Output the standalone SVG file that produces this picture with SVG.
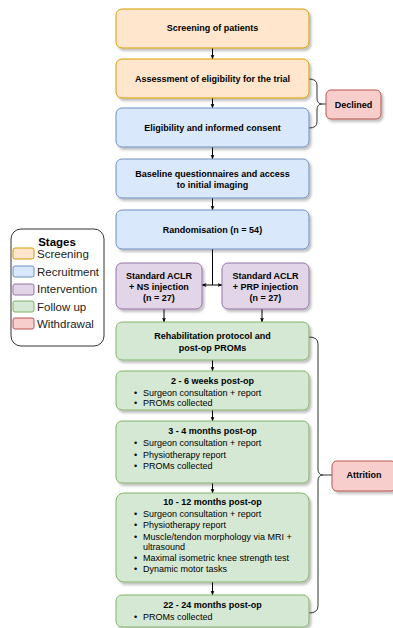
<svg xmlns="http://www.w3.org/2000/svg" width="393" height="628" viewBox="0 0 393 628">
<defs>
<filter id="sh" x="-10%" y="-10%" width="130%" height="140%"><feDropShadow dx="2" dy="2.5" stdDeviation="1.2" flood-color="#000" flood-opacity="0.25"/></filter>
<marker id="ah" viewBox="0 0 10 10" refX="9" refY="5" markerWidth="5" markerHeight="5" orient="auto-start-reverse"><path d="M0,1 L10,5 L0,9 L2.5,5 Z" fill="#000"/></marker>
</defs>
<style>
.b{stroke-width:1;filter:url(#sh)}
.or{fill:#ffe6cc;stroke:#d79b00}
.bl{fill:#dae8fc;stroke:#6c8ebf}
.pu{fill:#e1d5e7;stroke:#9673a6}
.gr{fill:#d5e8d4;stroke:#82b366}
.rd{fill:#f8cecc;stroke:#b85450}
text{font-family:"Liberation Sans",Arial,sans-serif;font-size:9px;fill:#000}
.t{font-weight:bold;text-anchor:middle}
.c{text-anchor:middle}
.ln{fill:none;stroke:#000;stroke-width:1}
.br{fill:none;stroke:#333;stroke-width:1}
.lg{font-size:11.5px;fill:#222}
</style>
<rect width="393" height="628" fill="#fff"/>
<g id="connectors">
<line class="ln" x1="212.5" y1="48" x2="212.5" y2="59" marker-end="url(#ah)"/>
<line class="ln" x1="212.5" y1="98" x2="212.5" y2="108" marker-end="url(#ah)"/>
<line class="ln" x1="212.5" y1="147" x2="212.5" y2="159" marker-end="url(#ah)"/>
<line class="ln" x1="212.5" y1="198" x2="212.5" y2="210" marker-end="url(#ah)"/>
<line class="ln" x1="212.5" y1="249" x2="212.5" y2="285"/>
<line class="ln" x1="212.5" y1="285" x2="202" y2="285" marker-end="url(#ah)"/>
<line class="ln" x1="212.5" y1="285" x2="222" y2="285" marker-end="url(#ah)"/>
<line class="ln" x1="164" y1="309" x2="164" y2="322" marker-end="url(#ah)"/>
<line class="ln" x1="262" y1="309" x2="262" y2="322" marker-end="url(#ah)"/>
<line class="ln" x1="212.5" y1="360" x2="212.5" y2="371" marker-end="url(#ah)"/>
<line class="ln" x1="212.5" y1="410" x2="212.5" y2="421" marker-end="url(#ah)"/>
<line class="ln" x1="212.5" y1="483" x2="212.5" y2="493" marker-end="url(#ah)"/>
<line class="ln" x1="212.5" y1="582" x2="212.5" y2="595" marker-end="url(#ah)"/>
<path class="br" d="M309,79 Q317,79 317,85 L317,98 Q317,104 322,104 Q317,104 317,110 L317,122 Q317,128 309,128"/>
<line class="br" x1="322" y1="104" x2="326" y2="104"/>
<path class="br" d="M309,337 Q318,337 318,344 L318,469 Q318,475 323,475 Q318,475 318,481 L318,606 Q318,613 309,613"/>
<line class="br" x1="323" y1="475" x2="332" y2="475"/>
</g>
<g id="screening"><rect class="b or" x="116" y="9" width="193" height="39" rx="6"/><text class="t" x="212.5" y="31">Screening of patients</text></g>
<g id="assessment"><rect class="b or" x="116" y="59" width="193" height="39" rx="6"/><text class="t" x="212.5" y="82">Assessment of eligibility for the trial</text></g>
<g id="consent"><rect class="b bl" x="116" y="108" width="193" height="39" rx="6"/><text class="t" x="212.5" y="131">Eligibility and informed consent</text></g>
<g id="baseline"><rect class="b bl" x="116" y="159" width="193" height="39" rx="6"/><text class="t" x="212.5" y="177">Baseline questionnaires and access</text><text class="t" x="212.5" y="188">to initial imaging</text></g>
<g id="randomisation"><rect class="b bl" x="116" y="210" width="193" height="39" rx="6"/><text class="t" x="212.5" y="233">Randomisation (n = 54)</text></g>
<g id="ns"><rect class="b pu" x="116" y="263" width="86" height="46" rx="6"/><text class="t" x="159" y="279">Standard ACLR</text><text class="t" x="159" y="290">+ NS injection</text><text class="t" x="159" y="301">(n = 27)</text></g>
<g id="prp"><rect class="b pu" x="222" y="263" width="87" height="46" rx="6"/><text class="t" x="265.5" y="279">Standard ACLR</text><text class="t" x="265.5" y="290">+ PRP injection</text><text class="t" x="265.5" y="301">(n = 27)</text></g>
<g id="rehab"><rect class="b gr" x="116" y="322" width="193" height="38" rx="6"/><text class="t" x="212.5" y="339">Rehabilitation protocol and</text><text class="t" x="212.5" y="351">post-op PROMs</text></g>
<g id="w2-6"><rect class="b gr" x="116" y="371" width="193" height="39" rx="6"/><text class="t" x="212.5" y="384">2 - 6 weeks post-op</text>
<text x="134" y="396">•</text><text x="143" y="396" fill="#222">Surgeon consultation + report</text>
<text x="134" y="406">•</text><text x="143" y="406" fill="#222">PROMs collected</text></g>
<g id="m3-4"><rect class="b gr" x="116" y="421" width="193" height="62" rx="6"/><text class="t" x="212.5" y="434">3 - 4 months post-op</text>
<text x="134" y="446">•</text><text x="143" y="446">Surgeon consultation + report</text>
<text x="134" y="458">•</text><text x="143" y="458">Physiotherapy report</text>
<text x="134" y="469">•</text><text x="143" y="469">PROMs collected</text></g>
<g id="m10-12"><rect class="b gr" x="116" y="493" width="193" height="89" rx="8"/><text class="t" x="212.5" y="505">10 - 12 months post-op</text>
<text x="134" y="517">•</text><text x="143" y="517">Surgeon consultation + report</text>
<text x="134" y="528">•</text><text x="143" y="528">Physiotherapy report</text>
<text x="134" y="540">•</text><text x="143" y="540">Muscle/tendon morphology via MRI +</text>
<text x="143" y="550">ultrasound</text>
<text x="134" y="561">•</text><text x="143" y="561">Maximal isometric knee strength test</text>
<text x="134" y="572">•</text><text x="143" y="572">Dynamic motor tasks</text></g>
<g id="m22-24"><rect class="b gr" x="116" y="595" width="193" height="32" rx="6"/><text class="t" x="212.5" y="608">22 - 24 months post-op</text>
<text x="134" y="620">•</text><text x="143" y="620">PROMs collected</text></g>
<g id="declined"><rect class="b rd" x="326" y="90" width="55" height="29" rx="5"/><text class="t" x="353.5" y="108">Declined</text></g>
<g id="attrition"><rect class="b rd" x="332" y="461" width="64" height="30" rx="5"/><text class="t" x="364" y="478">Attrition</text></g>
<g id="legend"><rect x="11" y="229" width="93" height="117" rx="10" fill="#fff" stroke="#333" stroke-width="1"/>
<text class="t" x="57" y="246" style="font-size:11.5px">Stages</text>
<rect class="or" x="13" y="248" width="21" height="11" rx="2"/><text class="lg" x="37" y="258">Screening</text>
<rect class="bl" x="13" y="266" width="21" height="11" rx="2"/><text class="lg" x="37" y="276">Recruitment</text>
<rect class="pu" x="13" y="284" width="21" height="11" rx="2"/><text class="lg" x="37" y="293">Intervention</text>
<rect class="gr" x="13" y="301" width="21" height="11" rx="2"/><text class="lg" x="37" y="311">Follow up</text>
<rect class="rd" x="13" y="318" width="21" height="11" rx="2"/><text class="lg" x="37" y="328">Withdrawal</text></g>
</svg>
